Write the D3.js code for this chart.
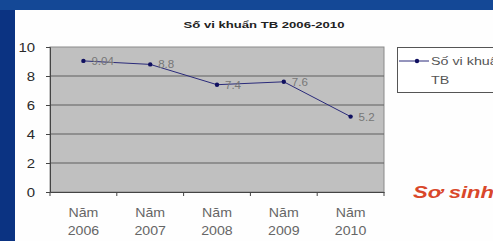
<!DOCTYPE html>
<html><head><meta charset="utf-8">
<script src="https://cdn.jsdelivr.net/npm/d3@7"></script>
<style>body{margin:0;background:#fff;overflow:hidden}svg{display:block}</style>
</head><body>
<script>
const categories = [["Năm","2006"],["Năm","2007"],["Năm","2008"],["Năm","2009"],["Năm","2010"]];
const values = [9.04, 8.8, 7.4, 7.6, 5.2];
const labels = ["9.04", "8.8", "7.4", "7.6", "5.2"];
const yTicks = [0, 2, 4, 6, 8, 10];
const title = "Số vi khuẩn TB 2006-2010";
const seriesName = ["Số vi khuẩn", "TB"];
const sideText = "Sơ sinh";

const W = 493, H = 241;
const FONT = "Arial, 'Liberation Sans', sans-serif";
const svg = d3.select("body").append("svg").attr("width", W).attr("height", H);

// horizontally stretch text around its anchor x
function stretch(sel, sx) {
  sel.each(function () {
    const t = d3.select(this);
    const x0 = +t.attr("x") || 0;
    t.attr("transform", `translate(${x0 * (1 - sx)},0) scale(${sx},1)`);
  });
}

// background frame
svg.append("rect").attr("width", W).attr("height", H).attr("fill", "#0b3382");
svg.append("rect").attr("x", 0).attr("y", 0).attr("width", W).attr("height", 10).attr("fill", "#144896");
svg.append("rect").attr("x", 15).attr("y", 10).attr("width", W - 15).attr("height", H - 10).attr("fill", "#fefefe");

const m = {l: 50, r: 384, t: 47, b: 192};
const x = d3.scaleBand().domain(d3.range(categories.length)).range([m.l, m.r]);
const y = d3.scaleLinear().domain([0, 10]).range([m.b, m.t]);

svg.append("rect").attr("x", m.l).attr("y", m.t).attr("width", m.r - m.l).attr("height", m.b - m.t)
  .attr("fill", "#c0c0c0").attr("stroke", "#8a8a8a").attr("stroke-width", 1);

// gridlines
svg.append("g").selectAll("line").data(yTicks.filter(d => d > 0 && d < 10)).join("line")
  .attr("x1", m.l).attr("x2", m.r).attr("y1", d => y(d)).attr("y2", d => y(d))
  .attr("stroke", "#5e5e5e").attr("stroke-width", 1);

// y axis
const yAxis = svg.append("g").attr("transform", `translate(${m.l},0)`)
  .call(d3.axisLeft(y).tickValues(yTicks).tickSize(4).tickPadding(11));
yAxis.select(".domain").attr("stroke", "#444");
yAxis.selectAll(".tick line").attr("stroke", "#444");
yAxis.selectAll("text").attr("font-family", FONT).attr("font-size", 13).attr("fill", "#2a2a2a");
yAxis.selectAll("text").attr("transform", "scale(1.15,1)").attr("x", -15 / 1.15);

// x axis
const xAxis = svg.append("g").attr("transform", `translate(0,${m.b})`)
  .call(d3.axisBottom(x).tickSize(0).tickFormat(""));
xAxis.select(".domain").attr("stroke", "#444");
svg.append("g").selectAll("line").data(d3.range(categories.length + 1)).join("line")
  .attr("x1", i => m.l + i * x.step()).attr("x2", i => m.l + i * x.step())
  .attr("y1", m.b).attr("y2", m.b + 4).attr("stroke", "#444");
const xl = svg.append("g").selectAll("text").data(categories).join("text")
  .attr("x", (d, i) => x(i) + x.bandwidth() / 2)
  .attr("text-anchor", "middle")
  .attr("font-family", FONT).attr("font-size", 12).attr("fill", "#666");
xl.append("tspan").attr("x", (d, i) => x(i) + x.bandwidth() / 2).attr("y", 217).text(d => d[0]);
xl.append("tspan").attr("x", (d, i) => x(i) + x.bandwidth() / 2).attr("y", 235).text(d => d[1]);
stretch(xl, 1.18);

// line
const cx = i => x(i) + x.bandwidth() / 2;
svg.append("path").datum(values)
  .attr("d", d3.line().x((d, i) => cx(i)).y(d => y(d)))
  .attr("fill", "none").attr("stroke", "#2a2a7a").attr("stroke-width", 1);
svg.append("g").selectAll("circle").data(values).join("circle")
  .attr("cx", (d, i) => cx(i)).attr("cy", d => y(d)).attr("r", 2.2).attr("fill", "#101060");
const dl = svg.append("g").selectAll("text").data(values).join("text")
  .attr("x", (d, i) => cx(i) + 8).attr("y", d => y(d) + 4)
  .attr("font-family", FONT).attr("font-size", 10.5).attr("fill", "#777")
  .text((d, i) => labels[i]);
stretch(dl, 1.1);

// title
const tt = svg.append("text").attr("x", 264).attr("y", 28).attr("text-anchor", "middle")
  .attr("font-family", FONT).attr("font-size", 9.5).attr("font-weight", "bold").attr("fill", "#222")
  .text(title);
stretch(tt, 1.38);

// legend
svg.append("rect").attr("x", 397.5).attr("y", 47.5).attr("width", 110).attr("height", 45)
  .attr("fill", "#fff").attr("stroke", "#555");
svg.append("line").attr("x1", 399).attr("x2", 429).attr("y1", 61).attr("y2", 61).attr("stroke", "#2a2a7a");
svg.append("circle").attr("cx", 417).attr("cy", 61).attr("r", 2.2).attr("fill", "#101060");
const lg = svg.append("g");
lg.append("text").attr("x", 431).attr("y", 65).attr("font-family", FONT)
  .attr("font-size", 11).attr("fill", "#555").text(seriesName[0]);
lg.append("text").attr("x", 431).attr("y", 84).attr("font-family", FONT)
  .attr("font-size", 11).attr("fill", "#555").text(seriesName[1]);
stretch(lg.selectAll("text"), 1.3);

// side text
const st = svg.append("text").attr("x", 413).attr("y", 198).attr("font-family", FONT)
  .attr("font-size", 17).attr("font-weight", "bold").attr("font-style", "italic").attr("fill", "#d9472a")
  .text(sideText);
stretch(st, 1.3);
</script>
</body></html>
